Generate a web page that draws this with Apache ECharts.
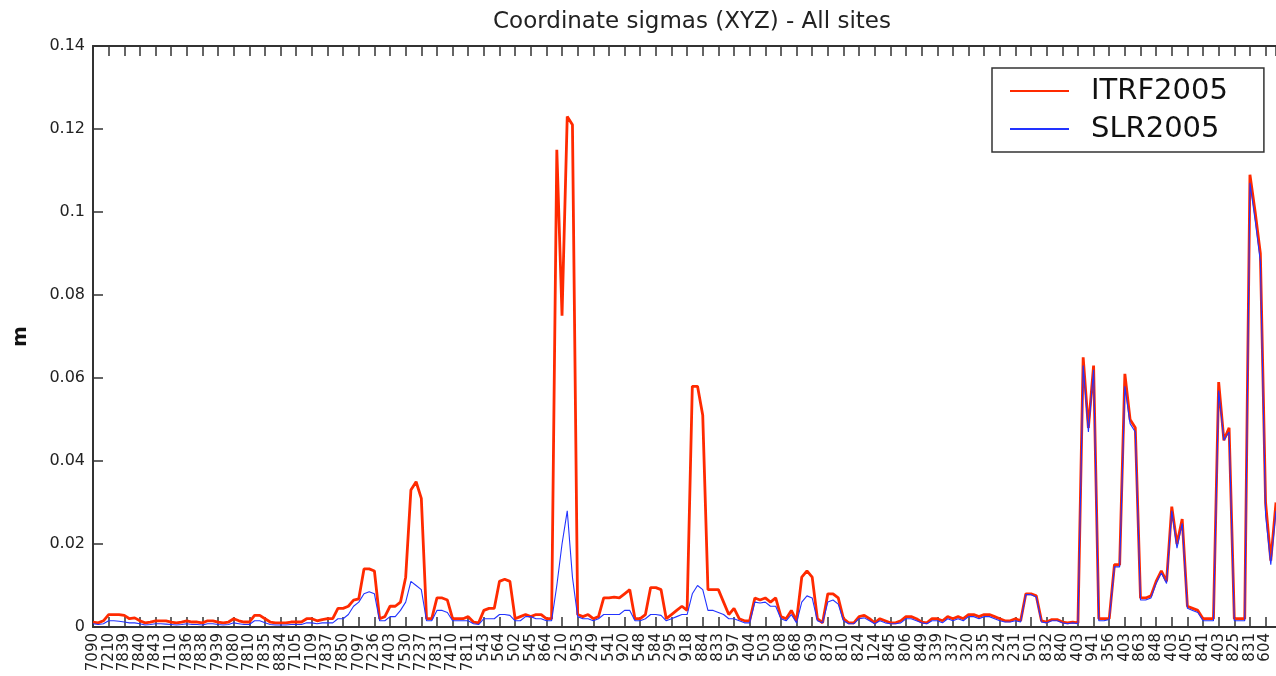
<!DOCTYPE html>
<html>
<head>
<meta charset="utf-8">
<script src="https://cdn.jsdelivr.net/npm/echarts@6.0.0/dist/echarts.min.js"></script>
<style>
  html, body { margin: 0; padding: 0; background: #fff; }
  #chart { width: 1276px; height: 676px; }
</style>
</head>
<body>
<div id="chart"></div>
<script>
// site codes, one tick per site (each site has X, Y, Z sigma points)
var sites = [
  '7090', '7210', '7839', '7840', '7843', '7110', '7836', '7838', '7939', '7080',
  '7810', '7835', '8834', '7105', '7109', '7837', '7850', '7097', '7236', '7403',
  '7530', '7237', '7831', '7410', '7811', '543', '564', '502', '545', '864',
  '210', '953', '249', '541', '920', '548', '584', '295', '918', '884',
  '833', '597', '404', '503', '508', '868', '639', '873', '810', '824',
  '124', '845', '806', '849', '339', '337', '320', '335', '324', '231',
  '501', '832', '840', '403', '941', '356', '403', '863', '848', '403',
  '405', '841', '403', '825', '831', '604'
];

// ITRF2005 sigmas (m), X/Y/Z per site
var itrf = [
  0.0012, 0.001, 0.0015, 0.003, 0.003, 0.003, 0.0028, 0.002, 0.0022, 0.0015,
  0.001, 0.0012, 0.0015, 0.0015, 0.0015, 0.0012, 0.001, 0.0012, 0.0015, 0.0012,
  0.0012, 0.001, 0.0015, 0.0015, 0.0012, 0.001, 0.0012, 0.002, 0.0015, 0.0012,
  0.0012, 0.0028, 0.0028, 0.002, 0.0012, 0.001, 0.001, 0.001, 0.0012, 0.0012,
  0.0012, 0.002, 0.002, 0.0015, 0.0018, 0.002, 0.002, 0.0045, 0.0045, 0.005,
  0.0065, 0.0068, 0.014, 0.014, 0.0135, 0.002, 0.0025, 0.005, 0.005, 0.006,
  0.012, 0.033, 0.035, 0.031, 0.002, 0.002, 0.007, 0.007, 0.0065, 0.002,
  0.002, 0.002, 0.0025, 0.0012, 0.001, 0.004, 0.0045, 0.0045, 0.011, 0.0115,
  0.011, 0.002, 0.0025, 0.003, 0.0025, 0.003, 0.003, 0.002, 0.002, 0.115,
  0.075, 0.123, 0.121, 0.003, 0.0025, 0.003, 0.002, 0.0025, 0.007, 0.007,
  0.0072, 0.007, 0.008, 0.009, 0.002, 0.002, 0.003, 0.0095, 0.0095, 0.009,
  0.002, 0.003, 0.004, 0.005, 0.004, 0.058, 0.058, 0.051, 0.009, 0.009,
  0.009, 0.006, 0.003, 0.0045, 0.002, 0.0015, 0.0015, 0.007, 0.0065, 0.007,
  0.006, 0.007, 0.0025, 0.002, 0.004, 0.0015, 0.012, 0.0135, 0.012, 0.002,
  0.001, 0.008, 0.008, 0.007, 0.002, 0.001, 0.001, 0.0025, 0.0028, 0.002,
  0.001, 0.002, 0.0015, 0.001, 0.001, 0.0015, 0.0025, 0.0025, 0.002, 0.0012,
  0.001, 0.002, 0.002, 0.0015, 0.0025, 0.002, 0.0025, 0.002, 0.003, 0.003,
  0.0025, 0.003, 0.003, 0.0025, 0.002, 0.0015, 0.0015, 0.002, 0.0015, 0.008,
  0.008, 0.0075, 0.0015, 0.0012, 0.0018, 0.0018, 0.0012, 0.001, 0.0012, 0.001,
  0.065, 0.048, 0.063, 0.002, 0.002, 0.002, 0.015, 0.015, 0.061, 0.05,
  0.048, 0.007, 0.007, 0.0075, 0.011, 0.0135, 0.011, 0.029, 0.02, 0.026,
  0.005, 0.0045, 0.004, 0.002, 0.002, 0.002, 0.059, 0.045, 0.048, 0.002,
  0.002, 0.002, 0.109, 0.1, 0.09, 0.03, 0.016, 0.03
];

// SLR2005 sigmas (m), X/Y/Z per site
var slr = [
  0.0008, 0.0006, 0.0008, 0.0015, 0.0015, 0.0014, 0.0012, 0.001, 0.001, 0.0008,
  0.0005, 0.0006, 0.0008, 0.0008, 0.0007, 0.0006, 0.0005, 0.0006, 0.0008, 0.0006,
  0.0006, 0.0005, 0.0008, 0.0008, 0.0006, 0.0005, 0.0006, 0.001, 0.0008, 0.0006,
  0.0006, 0.0015, 0.0015, 0.001, 0.0006, 0.0005, 0.0005, 0.0005, 0.0006, 0.0006,
  0.0006, 0.001, 0.001, 0.0008, 0.001, 0.001, 0.001, 0.002, 0.002, 0.003,
  0.005, 0.006, 0.008, 0.0085, 0.008, 0.0015, 0.0015, 0.0025, 0.0025, 0.004,
  0.006, 0.011, 0.01, 0.009, 0.0015, 0.0015, 0.004, 0.004, 0.0035, 0.0015,
  0.0015, 0.0015, 0.0015, 0.0008, 0.0006, 0.002, 0.002, 0.002, 0.003, 0.003,
  0.0028, 0.0015, 0.0015, 0.0025, 0.0025, 0.002, 0.002, 0.0015, 0.0015, 0.01,
  0.02, 0.028, 0.012, 0.0025, 0.002, 0.002, 0.0015, 0.002, 0.003, 0.003,
  0.003, 0.003, 0.004, 0.004, 0.0015, 0.0015, 0.002, 0.003, 0.003, 0.0028,
  0.0015, 0.002, 0.0025, 0.003, 0.003, 0.008, 0.01, 0.009, 0.004, 0.004,
  0.0035, 0.003, 0.002, 0.002, 0.0015, 0.001, 0.001, 0.006, 0.0058, 0.006,
  0.005, 0.005, 0.002, 0.0015, 0.003, 0.001, 0.006, 0.0075, 0.007, 0.0015,
  0.001, 0.006, 0.0065, 0.0055, 0.0015, 0.0008, 0.0008, 0.002, 0.0022, 0.0015,
  0.0008, 0.0015, 0.001, 0.0008, 0.0008, 0.001, 0.002, 0.002, 0.0015, 0.001,
  0.0008, 0.0015, 0.0015, 0.001, 0.002, 0.0015, 0.002, 0.0015, 0.0025, 0.0025,
  0.002, 0.0025, 0.0025, 0.002, 0.0015, 0.0012, 0.0012, 0.0015, 0.0012, 0.0078,
  0.0078, 0.0072, 0.0012, 0.001, 0.0015, 0.0015, 0.001, 0.0008, 0.001, 0.0008,
  0.063, 0.047, 0.062, 0.0015, 0.0015, 0.0018, 0.0145, 0.0145, 0.058, 0.049,
  0.047, 0.0065, 0.0065, 0.007, 0.0105, 0.013, 0.0105, 0.028, 0.019, 0.025,
  0.0045, 0.004, 0.0035, 0.0015, 0.0015, 0.0015, 0.057, 0.045, 0.047, 0.0015,
  0.0015, 0.0015, 0.107, 0.098, 0.088, 0.027, 0.015, 0.028
];

var yTicks = [0, 0.02, 0.04, 0.06, 0.08, 0.1, 0.12, 0.14];

(function() {
  var font = 'DejaVu Sans';
  var axisCol = '#333';
  var chart = echarts.init(document.getElementById('chart'), null, { renderer: 'canvas' });
  var lastIdx = itrf.length - 1;

  function pts(arr) {
    return arr.map(function(v, i) { return [i, v]; });
  }

  var tickStyle = { show: true, inside: true, length: 10, lineStyle: { color: axisCol, width: 1.5 } };

  chart.setOption({
    animation: false,
    backgroundColor: '#fff',
    title: {
      text: 'Coordinate sigmas (XYZ) - All sites',
      left: 687,
      textAlign: 'center',
      top: 6,
      textStyle: { fontFamily: font, fontSize: 23, fontWeight: 'normal', color: '#222' }
    },
    legend: {
      orient: 'vertical',
      left: 992,
      top: 68,
      padding: [8, 36, 8, 17],
      itemWidth: 59,
      itemHeight: 14,
      itemGap: 8,
      itemStyle: { opacity: 0 },
      borderColor: '#333',
      borderWidth: 1.5,
      backgroundColor: '#fff',
      textStyle: { fontFamily: font, fontSize: 29, color: '#111', lineHeight: 30, padding: [0, 0, 0, 17] },
      data: ['ITRF2005', 'SLR2005']
    },
    grid: { left: 93, right: 0, top: 46, bottom: 49 },
    xAxis: [{
      type: 'value',
      min: 0,
      max: lastIdx,
      interval: 3,
      position: 'bottom',
      axisLine: { show: true, lineStyle: { color: axisCol, width: 2 } },
      axisTick: tickStyle,
      splitLine: { show: false },
      axisLabel: {
        rotate: 90,
        margin: 6,
        fontFamily: font,
        fontSize: 15,
        color: '#222',
        showMaxLabel: false,
        formatter: function(v) {
          return v % 3 === 0 && sites[v / 3] ? sites[v / 3] : '';
        }
      }
    }, {
      type: 'value',
      min: 0,
      max: lastIdx,
      interval: 3,
      position: 'top',
      axisLine: { show: true, lineStyle: { color: axisCol, width: 2 } },
      axisTick: tickStyle,
      splitLine: { show: false },
      axisLabel: { show: false }
    }],
    yAxis: {
      type: 'value',
      min: yTicks[0],
      max: yTicks[yTicks.length - 1],
      interval: 0.02,
      name: 'm',
      nameLocation: 'middle',
      nameRotate: 90,
      nameGap: 62,
      nameTextStyle: { fontFamily: font, fontSize: 20, fontWeight: 'bold', color: '#111' },
      axisLine: { show: true, lineStyle: { color: axisCol, width: 2 } },
      axisTick: tickStyle,
      splitLine: { show: false },
      axisLabel: { fontFamily: font, fontSize: 16, color: '#222', margin: 8 }
    },
    series: [{
      name: 'ITRF2005',
      type: 'line',
      xAxisIndex: 0,
      data: pts(itrf),
      symbol: 'none',
      lineStyle: { color: '#ff2a00', width: 2.8 },
      itemStyle: { color: '#ff2a00' }
    }, {
      name: 'SLR2005',
      type: 'line',
      xAxisIndex: 0,
      data: pts(slr),
      symbol: 'none',
      lineStyle: { color: '#2233ff', width: 1.1 },
      itemStyle: { color: '#2233ff' }
    }]
  });

  window.addEventListener('resize', function() { chart.resize(); });
})();
</script>
</body>
</html>
